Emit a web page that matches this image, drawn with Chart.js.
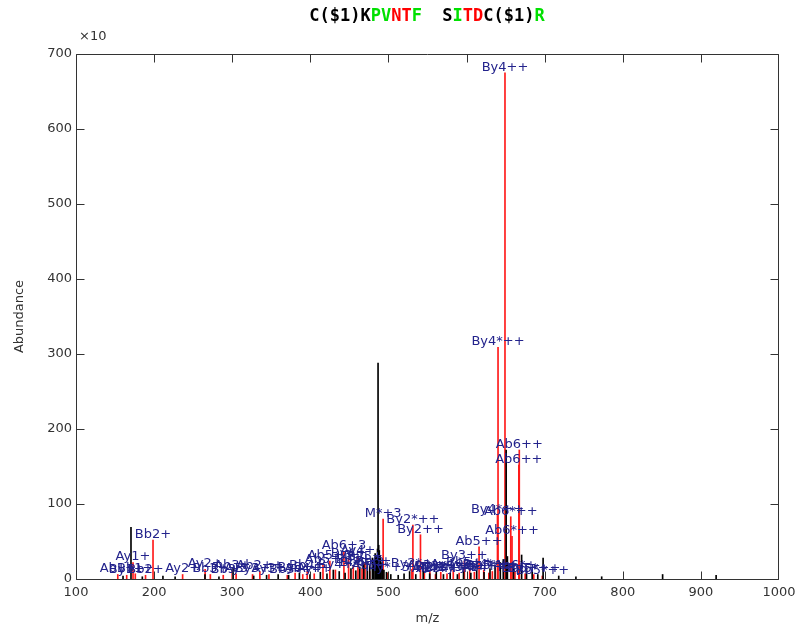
<!DOCTYPE html>
<html>
<head>
<meta charset="utf-8">
<script src="https://cdn.jsdelivr.net/npm/chart.js@4.4.0/dist/chart.umd.min.js"></script>
<style>
html, body { margin: 0; padding: 0; background: #fff; }
canvas { display: block; }
</style>
</head>
<body>
<canvas id="spectrum" width="795" height="626"></canvas>
<script>
// unmatched peaks (black)
const blackMz = [160.2, 170.4, 184.9, 211.3, 226.9, 265.1, 283.0, 301.1, 327.5, 344.0, 358.8, 372.2,
  386.0, 399.5, 412.8, 421.3, 429.4, 437.0, 444.5, 452.0, 458.2, 463.3, 468.4, 472.9, 476.1, 479.5,
  481.2, 483.0, 484.6, 486.0, 486.7, 487.5, 488.3, 489.5, 490.6, 492.0, 494.2, 497.5, 503.0, 512.5,
  520.0, 527.1, 535.0, 544.5, 552.8, 561.2, 570.4, 579.0, 588.3, 596.1, 605.5, 613.0, 622.4, 630.0,
  636.5, 643.2, 647.0, 650.7, 652.3, 660.1, 670.5, 676.8, 684.0, 691.2, 698.0, 718.0, 740.0, 773.0,
  851.0, 919.5];
const blackAbund = [4, 69, 3, 4, 3, 6, 3, 15, 4, 5, 6, 5,
  8, 6, 9, 7, 12, 10, 8, 14, 11, 16, 20, 24, 18, 28,
  22, 34, 30, 40, 288, 45, 38, 30, 22, 16, 12, 9, 6, 5,
  7, 10, 6, 12, 7, 9, 6, 8, 6, 10, 8, 12, 9, 14,
  18, 22, 26, 172, 30, 20, 32, 14, 10, 6, 28, 4, 3, 3,
  6, 5];

// matched peaks (red) and their annotations
const redMz = [153.5, 164.9, 173.0, 175.9, 189.0, 198.6, 236.5, 265.3, 272.0, 288.5, 300.0, 305.0,
  326.0, 335.4, 347.0, 370.5, 380.5, 390.3, 396.0, 405.0, 416.2, 425.0, 432.1, 443.0, 449.0, 455.0,
  461.0, 466.2, 470.0, 476.0, 480.5, 493.2, 499.0, 530.0, 531.3, 541.0, 546.0, 553.0, 560.2, 567.0,
  575.0, 583.0, 590.5, 597.2, 604.0, 610.0, 616.0, 622.0, 628.5, 633.0, 639.6, 640.3, 649.2, 656.6,
  658.2, 662.0, 666.9, 667.5, 675.0, 686.0, 697.0];
const redAbund = [6, 5, 22, 7, 5, 52, 6, 13, 6, 5, 10, 7,
  6, 10, 6, 5, 8, 6, 10, 7, 19, 24, 12, 37, 27, 18,
  30, 14, 22, 10, 16, 80, 8, 13, 72, 59, 8, 10, 6, 9,
  7, 12, 8, 24, 14, 9, 43, 12, 8, 10, 85, 309, 675, 83,
  57, 10, 152, 172, 7, 6, 4];
const redLabels = ['Ab1+', 'By1+', 'Ay1+', 'Bb1+', 'Bb2+', 'Bb2+', 'Ay2+', 'Ay2+', 'Bb3+', 'Bb3', 'Ab3+', 'Ay3',
  'By3+', 'Ab2++', 'Ay3+', 'Bb3+', 'By3+', 'Ab4+', 'Bb4+', 'Ay4+', 'Ab5+', 'Ab5+3', 'By4+', 'Ab6+3', 'By4+', 'Bb5+',
  'Ay4+', 'Bb6+3', 'By5+', 'Ab5+', 'Bb6+', 'M*+3', 'My*+3', 'By2*+', 'By2*++', 'By2++', '+H2O', 'Ay3++', 'Ab4++', 'By3*++',
  'Bb4++', 'Ay4++', 'By3*+', 'By3++', 'Bb5++', 'Ay5++', 'Ab5++', 'By4*+', 'Ab4*++', 'Bb5*++', 'By4*++', 'By4*++', 'By4++', 'Ab6*++',
  'Ab6*++', 'Ab6*+', 'Ab6++', 'Ab6++', 'Bb6++', 'By5*++', 'Bb5*++'];

// title pieces: [text, colour]
const titleParts = [['C($1)K', '#000'], ['PV', '#00e000'], ['NT', '#ff0000'], ['F', '#00e000'],
  ['  S', '#000'], ['I', '#00e000'], ['TD', '#ff0000'], ['C($1)', '#000'], ['R', '#00e000']];

const toPoints = (xs, ys) => xs.map((x, i) => ({ x: x, y: ys[i] }));

Chart.defaults.font.family = 'DejaVu Sans';
Chart.defaults.font.size = 13;
Chart.defaults.color = '#333';

const axisColor = '#333';

const peakLabels = {
  id: 'peakLabels',
  afterDatasetsDraw(chart) {
    const ctx = chart.ctx;
    const meta = chart.getDatasetMeta(1);
    ctx.save();
    ctx.font = '13px "DejaVu Sans"';
    ctx.fillStyle = 'rgb(35,35,140)';
    ctx.textAlign = 'center';
    ctx.textBaseline = 'bottom';
    meta.data.forEach((bar, i) => {
      ctx.fillText(redLabels[i], bar.x, bar.y + 1);
    });
    ctx.restore();
  }
};

const frame = {
  id: 'frame',
  afterDraw(chart) {
    const ctx = chart.ctx;
    const a = chart.chartArea;
    const xs = chart.scales.x, ys = chart.scales.y;
    const l = Math.round(a.left) + 0.5, r = Math.round(a.right) - 0.5;
    const t = Math.round(a.top) + 0.5, b = Math.round(a.bottom) + 0.5;
    ctx.save();
    ctx.strokeStyle = axisColor;
    ctx.lineWidth = 1;
    ctx.beginPath();
    ctx.moveTo(l, t); ctx.lineTo(r, t); ctx.lineTo(r, b); ctx.lineTo(l, b); ctx.closePath();
    xs.ticks.forEach(tk => {
      const px = Math.min(Math.round(xs.getPixelForValue(tk.value)) + 0.5, r);
      ctx.moveTo(px, b); ctx.lineTo(px, b - 8);
      ctx.moveTo(px, t); ctx.lineTo(px, t + 8);
    });
    ys.ticks.forEach(tk => {
      const py = Math.round(ys.getPixelForValue(tk.value)) + 0.5;
      ctx.moveTo(l, py); ctx.lineTo(l + 8, py);
      ctx.moveTo(r, py); ctx.lineTo(r - 8, py);
    });
    ctx.stroke();

    // multiplier above the y axis
    ctx.fillStyle = '#333';
    ctx.font = '13px "DejaVu Sans"';
    ctx.textAlign = 'left';
    ctx.textBaseline = 'middle';
    ctx.fillText('\u00d710', a.left + 3, 37);

    // coloured sequence title
    ctx.font = 'bold 17px "DejaVu Sans Mono"';
    const full = titleParts.map(p => p[0]).join('');
    let x = 427 - ctx.measureText(full).width / 2;
    titleParts.forEach(p => {
      ctx.fillStyle = p[1];
      ctx.fillText(p[0], x, 17);
      x += ctx.measureText(p[0]).width;
    });
    ctx.restore();
  }
};

new Chart(document.getElementById('spectrum'), {
  type: 'bar',
  data: {
    datasets: [
      {
        label: 'unmatched',
        data: toPoints(blackMz, blackAbund),
        backgroundColor: '#000',
        barThickness: 1,
        grouped: false
      },
      {
        label: 'matched',
        data: toPoints(redMz, redAbund),
        backgroundColor: '#ff1a1a',
        barThickness: 1,
        grouped: false
      }
    ]
  },
  options: {
    responsive: false,
    animation: false,
    layout: { padding: { left: 0, right: 16, top: 54, bottom: 0 } },
    plugins: {
      legend: { display: false },
      tooltip: { enabled: false }
    },
    scales: {
      x: {
        type: 'linear',
        offset: false,
        min: 100,
        max: 1000,
        grid: { display: false, drawTicks: false },
        border: { display: false },
        ticks: { stepSize: 100, padding: 6, color: '#333', maxRotation: 0, callback: v => String(v) },
        title: { display: true, text: 'm/z', color: '#333', padding: { top: 0, bottom: 0 } },
        afterFit: s => { s.height = 47; s.paddingLeft = 0; s.paddingRight = 0; }
      },
      y: {
        min: 0,
        max: 700,
        grid: { display: false, drawTicks: false },
        border: { display: false },
        ticks: { stepSize: 100, padding: 4, color: '#333' },
        title: { display: true, text: 'Abundance', color: '#333', padding: { top: 12, bottom: 0 } },
        afterFit: s => { s.width = 76; s.paddingTop = 0; s.paddingBottom = 0; }
      }
    }
  },
  plugins: [peakLabels, frame]
});
</script>
</body>
</html>
